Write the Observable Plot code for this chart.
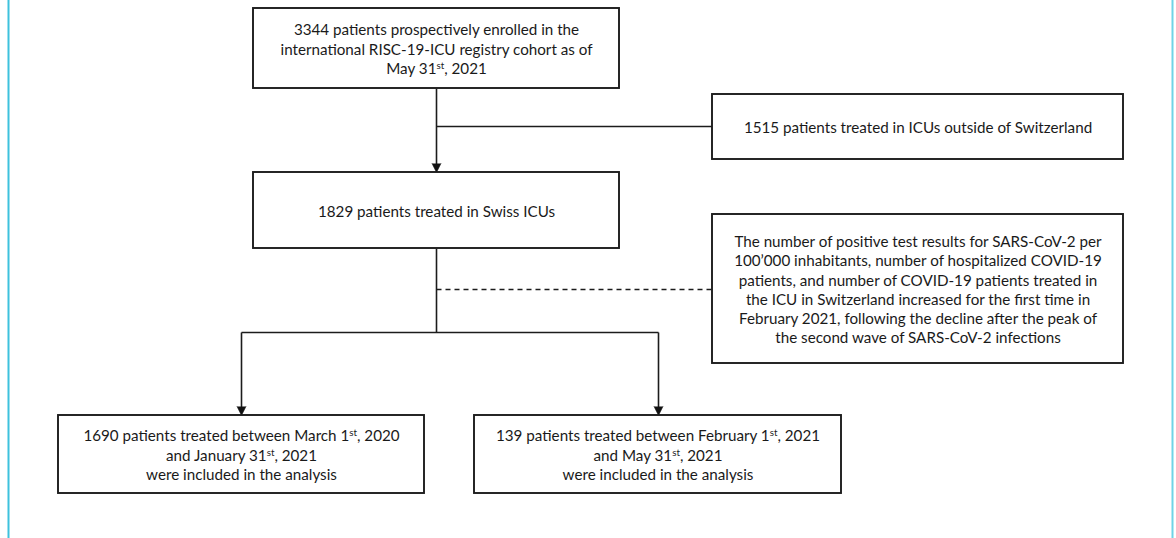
<!DOCTYPE html>
<html>
<head>
<meta charset="utf-8">
<script src="https://cdn.jsdelivr.net/npm/d3@7"></script>
<script src="https://cdn.jsdelivr.net/npm/@observablehq/plot@0.6"></script>
<style>
  html, body { margin: 0; padding: 0; background: #fff; }
  #chart svg { display: block; }
</style>
</head>
<body>
<div id="chart"></div>
<script>
// ---- Content (values & text) ----
const counts = [3344, 1515, 1829, 1690, 139];
const boxIds = ["enrolled", "outside", "swiss", "early", "late", "note"];
const boxTexts = [
  "3344 patients prospectively enrolled in the\ninternational RISC-19-ICU registry cohort as of\nMay 31st, 2021",
  "1515 patients treated in ICUs outside of Switzerland",
  "1829 patients treated in Swiss ICUs",
  "1690 patients treated between March 1st, 2020\nand January 31st, 2021\nwere included in the analysis",
  "139 patients treated between February 1st, 2021\nand May 31st, 2021\nwere included in the analysis",
  "The number of positive test results for SARS-CoV-2 per\n100\u2019000 inhabitants, number of hospitalized COVID-19\npatients, and number of COVID-19 patients treated in\nthe ICU in Switzerland increased for the first time in\nFebruary 2021, following the decline after the peak of\nthe second wave of SARS-CoV-2 infections"
];

// ---- Layout (positions, in pixels of the 1176x538 canvas) ----
const W = 1176, H = 538;
const boxX1 = [253, 712, 253, 58, 474, 712];
const boxX2 = [619, 1123, 619, 424, 841, 1123];
const boxY1 = [8, 94, 172, 415, 415, 214];
const boxY2 = [88, 159, 248, 493, 493, 363];

const boxes = boxIds.map((id, i) => ({
  id, text: boxTexts[i],
  x1: boxX1[i], x2: boxX2[i], y1: boxY1[i], y2: boxY2[i],
  cx: (boxX1[i] + boxX2[i]) / 2, cy: (boxY1[i] + boxY2[i]) / 2
}));

const links = [
  {x1: 436, y1: 88, x2: 436, y2: 166, dashed: false},
  {x1: 436, y1: 126, x2: 712, y2: 126, dashed: false},
  {x1: 436, y1: 248, x2: 436, y2: 332, dashed: false},
  {x1: 436, y1: 289, x2: 712, y2: 289, dashed: true},
  {x1: 241, y1: 332, x2: 658, y2: 332, dashed: false},
  {x1: 241, y1: 332, x2: 241, y2: 409, dashed: false},
  {x1: 658, y1: 332, x2: 658, y2: 409, dashed: false}
];
const arrowTips = [
  {x: 436, y: 172},
  {x: 241, y: 415},
  {x: 658, y: 415}
];
const borders = [
  {x: 8, color: "#3ec2dd"},
  {x: 1172, color: "#6fd3e6"}
];

const ink = "#1c1c1c";
const chart = Plot.plot({
  width: W,
  height: H,
  margin: 0,
  style: {fontFamily: "Lato, 'Noto Sans', sans-serif", background: "#fff", color: ink},
  x: {domain: [0, W], range: [0, W], axis: null},
  y: {domain: [0, H], range: [0, H], axis: null},
  marks: [
    Plot.ruleX(borders, {x: "x", y1: 0, y2: H, stroke: "color", strokeWidth: 2}),
    Plot.link(links.filter(d => !d.dashed), {x1: "x1", y1: "y1", x2: "x2", y2: "y2", stroke: ink, strokeWidth: 1.6}),
    Plot.link(links.filter(d => d.dashed), {x1: "x1", y1: "y1", x2: "x2", y2: "y2", stroke: ink, strokeWidth: 1.6, strokeDasharray: "5,4"}),
    Plot.vector(arrowTips, {x: "x", y: "y", length: 9, rotate: 180, shape: "spike", r: 4.5, anchor: "end", fill: "#111", fillOpacity: 1, stroke: "#111", strokeWidth: 0.5}),
    Plot.rect(boxes, {x1: "x1", x2: "x2", y1: "y1", y2: "y2", fill: "white", stroke: ink, strokeWidth: 1.9}),
    Plot.text(boxes, {x: "cx", y: "cy", text: "text", fontSize: 15.2, lineHeight: 1.27, fill: "#1a1a1a", textAnchor: "middle", lineAnchor: "middle"})
  ]
});
document.getElementById("chart").appendChild(chart);

// Ordinal suffixes as superscripts ("1st" -> 1 + raised "st")
const NS = "http://www.w3.org/2000/svg";
chart.querySelectorAll("text, tspan").forEach(el => {
  if (el.children.length) return;
  const s = el.textContent;
  if (!/\dst\b/.test(s)) return;
  const parts = s.split(/(?<=\d)st\b/);
  el.textContent = "";
  parts.forEach((p, i) => {
    if (i === 0) { el.appendChild(document.createTextNode(p)); return; }
    const sup = document.createElementNS(NS, "tspan");
    sup.setAttribute("dy", "-5");
    sup.setAttribute("font-size", "9.8");
    sup.textContent = "st";
    el.appendChild(sup);
    const rest = document.createElementNS(NS, "tspan");
    rest.setAttribute("dy", "5");
    rest.textContent = p;
    el.appendChild(rest);
  });
});
</script>
</body>
</html>
